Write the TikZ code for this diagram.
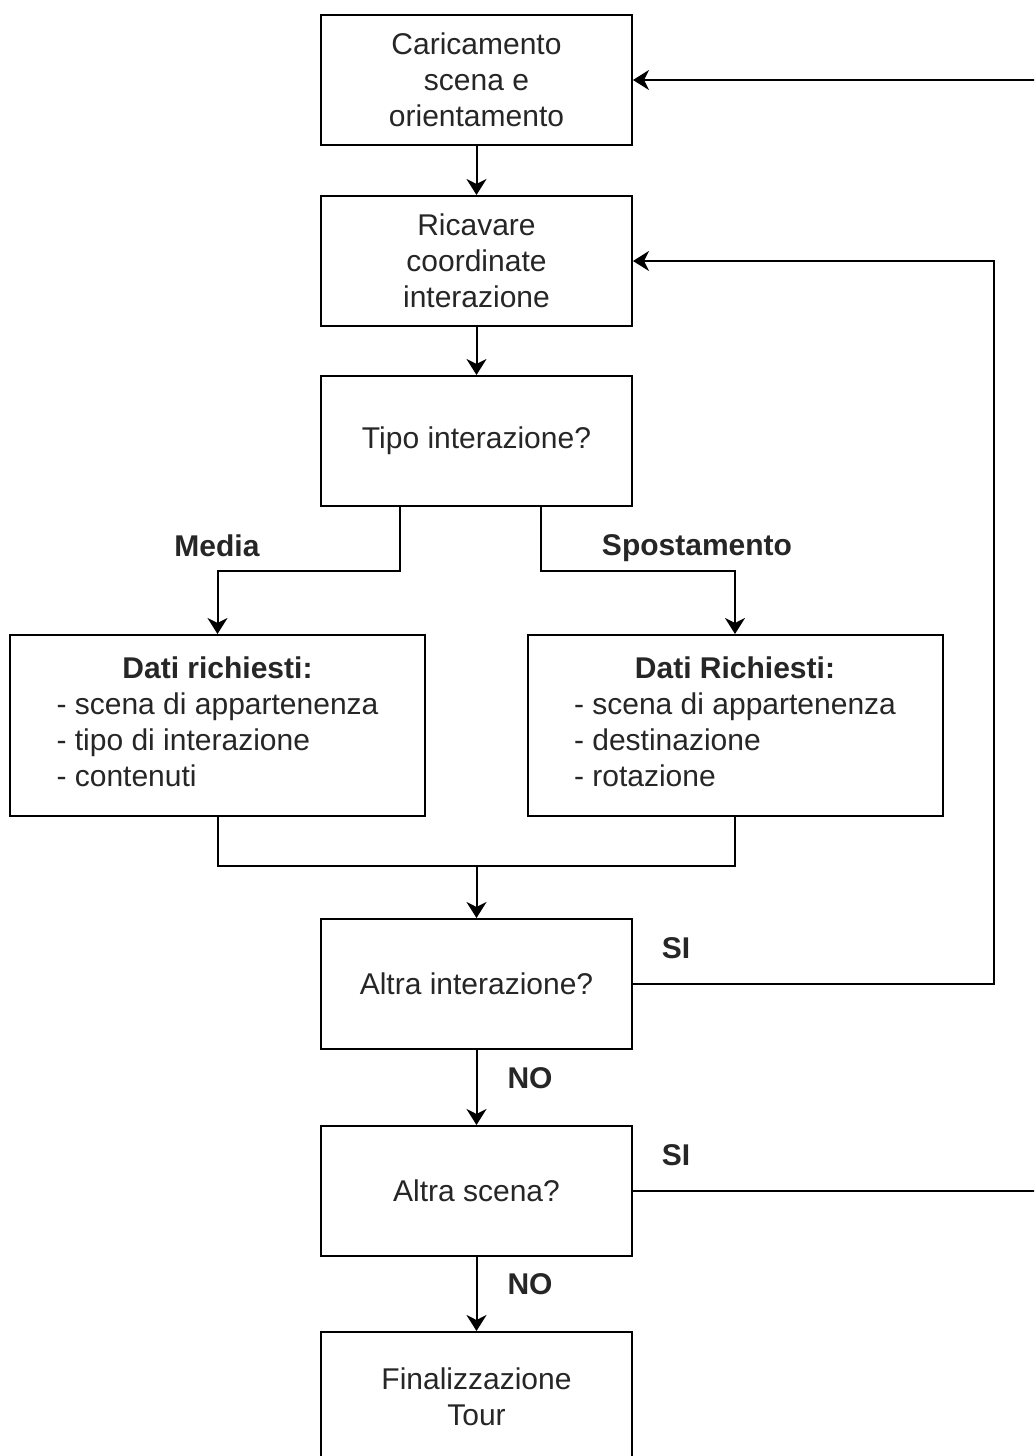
\documentclass[tikz,border=0pt]{standalone}
\usepackage{fontspec}
\setmainfont{Liberation Sans}
\usetikzlibrary{arrows.meta}

\begin{document}
\begin{tikzpicture}[x=0.5pt, y=-0.5pt, font=\fontsize{15}{18}\selectfont,
	box/.style={draw, line width=1pt, minimum width=155.5pt, minimum height=65pt, inner sep=0pt, align=center, text=black!85},
	databox/.style={box, minimum width=207.5pt, minimum height=90.5pt},
	arrow/.style={line width=1pt, -{Stealth[length=8pt, width=10pt, inset=2.5pt]}},
	lbl/.style={font=\fontsize{15}{18}\selectfont\bfseries, text=black!85}]
	\useasboundingbox (0,0) rectangle (1034,1456);
	\clip (0,0) rectangle (1034,1456);
	\fill[white] (0,0) rectangle (1034,1456);

	\node[box] (load) at (476.5,80) {Caricamento\\ scena e\\ orientamento};
	\node[box] (coords) at (476.5,261) {Ricavare\\ coordinate\\ interazione};
	\node[box] (tipo) at (476.5,441) {Tipo interazione?};
	\node[databox] (media) at (217.5,725.5) {\begin{tabular}{@{}l@{}}\multicolumn{1}{@{}c@{}}{\bfseries Dati richiesti:}\\ - scena di appartenenza\\ - tipo di interazione\\ - contenuti\end{tabular}};
	\node[databox] (spost) at (735,725.5) {\begin{tabular}{@{}l@{}}\multicolumn{1}{@{}c@{}}{\bfseries Dati Richiesti:}\\ - scena di appartenenza\\ - destinazione\\ - rotazione\end{tabular}};
	\node[box] (altraint) at (476.5,984) {Altra interazione?};
	\node[box] (altrasc) at (476.5,1191) {Altra scena?};
	\node[box] (fine) at (476.5,1397) {Finalizzazione\\ Tour};

	\foreach \a/\b in {load/coords, coords/tipo, altraint/altrasc, altrasc/fine} {\draw[arrow] (\a) -- (\b);}

	\draw[arrow] ([xshift=-38.25pt]tipo.south) -- ++(0,64) -| (media.north);
	\draw[arrow] ([xshift=32pt]tipo.south) -- ++(0,64) -| (spost.north);
	\node[lbl] (lmedia) at (217,546) {Media};
	\node[lbl] (lspost) at (697,548) {Spostamento};

	\coordinate (join) at (476.5,866);
	\draw[line width=1pt] (media.south) |- (join) -| (spost.south);
	\draw[arrow] (join) -- (altraint);

	\draw[arrow] (altraint.east) -- ++(361,0) |- (coords.east);
	\draw[arrow] (altrasc.east) -- ++(440,0) |- (load.east);
	\node[lbl] (si1) at (676,948) {SI};
	\node[lbl] (si2) at (676,1155) {SI};
	\node[lbl] (no1) at (530,1078) {NO};
	\node[lbl] (no2) at (530,1284) {NO};
\end{tikzpicture}
\end{document}
